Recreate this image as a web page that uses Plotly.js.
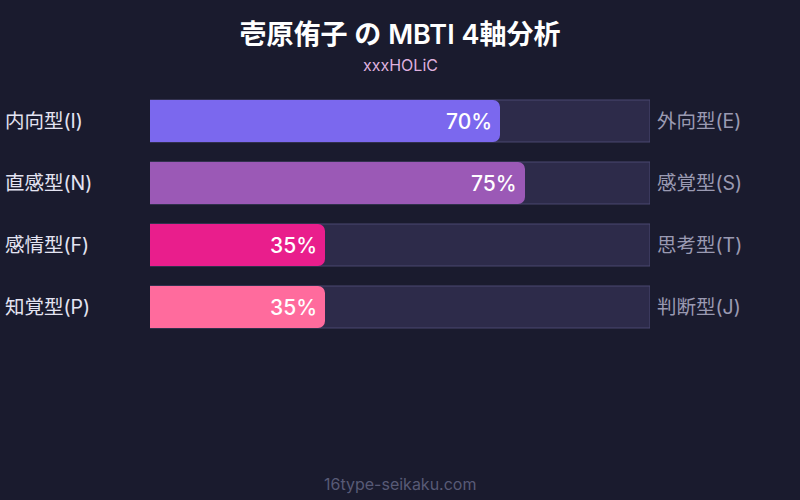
<!DOCTYPE html>
<html>
<head>
<meta charset="utf-8">
<script src="https://cdn.plot.ly/plotly-3.0.1.min.js"></script>
<style>html,body{margin:0;padding:0;background:#1a1b2e;}#chart{width:800px;height:500px;}</style>
</head>
<body>
<div id="chart"></div>
<script>
const categories = ['I/E', 'N/S', 'F/T', 'P/J'];
const leftLabels = ['内向型(I)', '直感型(N)', '感情型(F)', '知覚型(P)'];
const rightLabels = ['外向型(E)', '感覚型(S)', '思考型(T)', '判断型(J)'];
const values = [70, 75, 35, 35];
const trackValues = [100, 100, 100, 100];
const barColors = ['#7b68ee', '#9b59b6', '#e91e8c', '#ff6b9d'];

const FONT = 'Inter, "Noto Sans CJK JP", "Noto Sans", sans-serif';

const track = {
  type: 'bar', orientation: 'h',
  x: trackValues, y: categories, yaxis: 'y',
  marker: {color: '#2d2b4a', line: {color: '#4a4870', width: 1}},
  hoverinfo: 'skip', showlegend: false
};
const fill = {
  type: 'bar', orientation: 'h',
  x: values, y: categories, yaxis: 'y2',
  marker: {color: barColors, cornerradius: 7},
  hoverinfo: 'skip', showlegend: false
};

const annotations = [];
categories.forEach((c, i) => {
  annotations.push({xref: 'paper', yref: 'y', x: -0.288, xshift: -3, y: c, xanchor: 'left', yanchor: 'middle',
    text: leftLabels[i], showarrow: false, font: {family: FONT, size: 19.5, weight: 400, color: '#e4e4f2'}});
  annotations.push({xref: 'paper', yref: 'y', x: 1.016, xshift: -3, y: c, xanchor: 'left', yanchor: 'middle',
    text: rightLabels[i], showarrow: false, font: {family: FONT, size: 19.5, weight: 400, color: '#9a9ab2'}});
  annotations.push({xref: 'x', yref: 'y', x: values[i], y: c, xanchor: 'right', yanchor: 'middle', xshift: -6,
    text: values[i] + '%', showarrow: false, font: {family: FONT, size: 21, weight: 500, color: '#ffffff'}});
});
annotations.push({xref: 'paper', yref: 'paper', x: 0.5, y: 1, yshift: 25, xanchor: 'center', yanchor: 'middle',
  text: 'xxxHOLiC', showarrow: false, font: {family: FONT, size: 16, color: '#dfb0df'}});
annotations.push({xref: 'paper', yref: 'paper', x: 0.5, y: 0, yshift: -146, xanchor: 'center', yanchor: 'middle',
  text: '16type-seikaku.com', showarrow: false, font: {family: FONT, size: 16, color: '#585a76'}});

const yCommon = {categoryorder: 'array', categoryarray: categories, autorange: 'reversed', visible: false, fixedrange: true};
const layout = {
  width: 800, height: 500,
  paper_bgcolor: '#1a1b2e', plot_bgcolor: '#1a1b2e',
  margin: {l: 150, r: 150, t: 90, b: 162},
  title: {text: '壱原侑子 の MBTI 4軸分析', x: 0.5, xanchor: 'center', xref: 'paper', y: 0.93, yref: 'container', yanchor: 'middle',
    font: {family: FONT, size: 27, weight: 600, color: '#ffffff'}},
  bargap: 0.323,
  xaxis: {range: [0, 100], visible: false, fixedrange: true},
  yaxis: Object.assign({}, yCommon),
  yaxis2: Object.assign({overlaying: 'y'}, yCommon),
  annotations: annotations
};
Plotly.newPlot('chart', [track, fill], layout, {displayModeBar: false, staticPlot: true});
</script>
</body>
</html>
